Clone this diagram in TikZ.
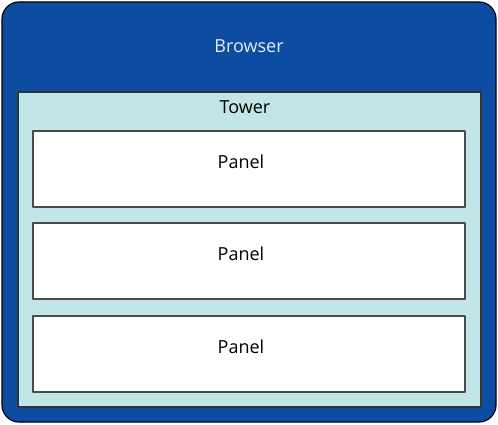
\documentclass[tikz,border=0pt]{standalone}
\usepackage{fontspec}
\setmainfont{Open Sans}
\usetikzlibrary{positioning}
\definecolor{browserblue}{HTML}{0C4DA2}
\definecolor{towercyan}{HTML}{C2E6E8}
\definecolor{panelgray}{HTML}{4A4A4A}
\definecolor{browsertext}{HTML}{E6ECF6}

\begin{document}
\begin{tikzpicture}[line cap=round,line join=round,x=1pt,y=-1pt,
		box/.style={inner sep=0pt,outer sep=0pt,anchor=north west},
		paneltext/.style={font=\fontsize{18}{20}\selectfont,text=black}]
				\useasboundingbox (0,0) rectangle (498,425);
				\node [box,draw=black,line width=1.2pt,fill=browserblue,rounded corners=17pt,minimum width=494pt,minimum height=420pt] (browser) at (2,2) {};
				\node [box,draw=panelgray!70!black,line width=1.4pt,fill=towercyan,minimum width=463pt,minimum height=315pt] (tower) at (18,92) {};
				\node [box,draw=panelgray,line width=2pt,fill=white,minimum width=432pt,minimum height=76pt] (panela) at (33,131) {};
				\node [box,draw=panelgray,line width=2pt,fill=white,minimum width=432pt,minimum height=76pt] (panelb) at (33,223) {};
				\node [box,draw=panelgray,line width=2pt,fill=white,minimum width=432pt,minimum height=76pt] (panelc) at (33,316) {};
				\node [paneltext,text=browsertext] (browserlabel) at (249,46) {Browser};
				\node [paneltext] (towerlabel) at (245,107) {Tower};
				\node [paneltext] (panelalabel) at (241,162) {Panel};
				\node [paneltext] (panelblabel) at (241,254) {Panel};
				\node [paneltext] (panelclabel) at (241,347) {Panel};
			\end{tikzpicture}
\end{document}
